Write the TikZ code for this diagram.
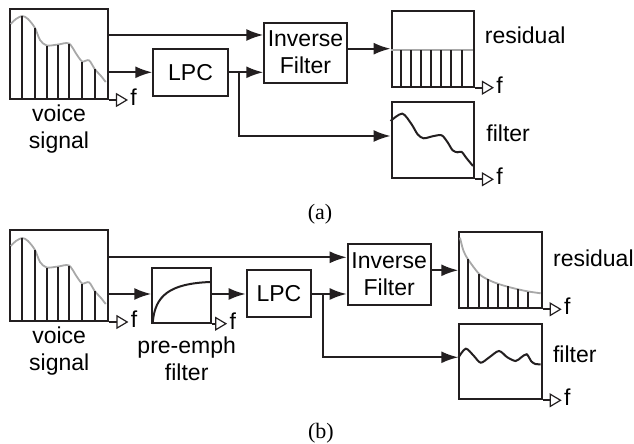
\documentclass[tikz,border=0pt]{standalone}
\usepackage{fontspec}
\setmainfont{Liberation Serif}
\setsansfont{Liberation Sans}
\usetikzlibrary{arrows.meta,positioning,calc}
\definecolor{envgray}{HTML}{A8A8A8}
\definecolor{inkblack}{HTML}{231F20}

\begin{document}
\begin{tikzpicture}[
x=0.5pt,y=0.5pt,
every node/.style={font=\sffamily\fontsize{11.5}{13.5}\selectfont},
spec/.style={draw=inkblack,line width=1pt,inner sep=0pt,
minimum width=41.2pt,minimum height=38pt},
blk/.style={draw=inkblack,line width=1pt,inner sep=0pt,align=center},
lbl/.style={inner sep=0pt,align=center},
fl/.style={inner sep=0pt,anchor=base west,xshift=0.7pt,yshift=-2.8pt},
arr/.style={draw=inkblack,line width=1pt,-{Latex[length=8.5pt,width=6pt]}},
faxis/.style={draw=inkblack,line width=1pt,
-{Triangle[open,length=6pt,width=7pt,line width=0.6pt]}},
stem/.style={inkblack,line width=1pt},
env/.style={envgray,line width=0.9pt},
resp/.style={inkblack,line width=1pt},
caplbl/.style={font=\rmfamily\fontsize{11}{13}\selectfont,inner sep=0pt}
]
\useasboundingbox (0,0) rectangle (634,444);

% (a)
\node[spec,minimum width=49pt,minimum height=45pt] (voiceA) at (59,390) {};
\node[blk,minimum width=37.2pt,minimum height=23.4pt] (lpcA) at (190.5,371.7) {LPC};
\node[blk,minimum width=41.2pt,minimum height=30pt] (invA) at (305.5,391.3) {Inverse\\Filter};
\node[spec] (resA)  at (432.8,395.3) {};
\node[spec] (filtA) at (432.8,303.7) {};
\node[lbl,below=2.2pt of voiceA] (voiceAl) {voice\\signal};
\node[lbl,anchor=base west] (resAl)  at ([shift={(9.5,4.7)}]resA.east) {residual};
\node[lbl,anchor=base west] (filtAl) at ([shift={(11,-1.4)}]filtA.east) {filter};
\node[caplbl] (capA) at (320,230) {(a)};

% (b)
\node[spec,minimum width=49.2pt,minimum height=45.5pt] (voiceB) at (59.2,168.5) {};
\node[spec,minimum width=29.4pt,minimum height=27.2pt] (preB) at (181.7,148.5) {};
\node[blk,minimum width=32.2pt,minimum height=23.4pt] (lpcB) at (278.9,150.7) {LPC};
\node[blk,minimum width=41.5pt,minimum height=30.5pt] (invB) at (389.2,169.5) {Inverse\\Filter};
\node[spec] (resB) at (500.5,173.7) {};
\node[spec,minimum height=37.5pt] (filtB) at (500.5,82.2) {};
\node[lbl,below=2.2pt of voiceB] (voiceBl) {voice\\signal};
\node[lbl,below=6.5pt of preB,xshift=2.5pt] (preBl) {pre-emph\\filter};
\node[lbl,anchor=base west] (resBl)  at ([shift={(10,3.6)}]resB.east) {residual};
\node[lbl,anchor=base west] (filtBl) at ([shift={(10,-0.9)}]filtB.east) {filter};
\node[caplbl] (capB) at (321,11) {(b)};

% spectra
\foreach \v in {voiceA,voiceB}{
  \begin{scope}[shift={(\v.south west)}]
    \draw[env] plot[smooth] coordinates {(1.7,76) (7,81) (13.3,84) (19,81)
      (26,72) (31,60) (37.7,54.5) (49.3,55.5) (60,56.5) (68,45) (73.3,38.5)
      (80,39.7) (85.7,31) (92,24) (96.7,18)};
    \foreach \x/\h in {13.3/84,26/72,37.7/54,49.3/55,60/56,73.3/38,85.7/31}
      \draw[stem] (\x,0) -- (\x,\h);
  \end{scope}
}
\begin{scope}[shift={(resA.south west)}]
  \draw[env] (0,37.7) -- (82.4,37.7);
  \foreach \x in {10,20.6,30.6,40.6,50.6,60.6,71}
    \draw[stem] (\x,0) -- (\x,37.7);
\end{scope}
\begin{scope}[shift={(filtA.south west)}]
  \draw[resp] plot[smooth] coordinates {(0,58.3) (11.7,65.7) (21,55) (27,45)
    (33,41) (42,43) (51,44) (57,37) (62,29) (67,27) (71,27.5) (76,21) (82.4,13.3)};
\end{scope}
\begin{scope}[shift={(preB.south west)}]
  \draw[resp] (1.5,2) .. controls (4,28) and (18,40) .. (58.8,41.7);
\end{scope}
\begin{scope}[shift={(resB.south west)}]
  \draw[env] plot[smooth] coordinates {(1.7,71.6) (5,59) (9.7,50) (20.7,35.5)
    (30,29.5) (39.7,25.5) (49.7,22.5) (59.7,20) (70,17.8) (82.4,16)};
  \foreach \x/\h in {9.7/50,20.7/35,30/30,39.7/25.6,49.7/23,59.7/20,70/17.6}
    \draw[stem] (\x,0) -- (\x,\h);
\end{scope}
\begin{scope}[shift={(filtB.south west)}]
  \draw[resp] plot[smooth] coordinates {(0,42.6) (7.4,51.6) (15,45) (22.4,37.6)
    (31,43) (40.7,49.3) (49,43) (57.4,39.3) (63,43) (68.4,46) (73,39)
    (77,36.3) (82.4,36)};
\end{scope}

% frequency axes
\foreach \s in {voiceA,resA,filtA,voiceB,resB,filtB}
  \draw[faxis] (\s.south east) -- ++(19,0) node[fl] (f\s) {f};
\draw[faxis] (preB.south east) -- ++(15,0) node[fl] (fpreB) {f};

% connections (a)
\coordinate (topA) at (0,409);
\coordinate (brA) at ($(lpcA.east)+(10,0)$);
\draw[arr] (voiceA.east |- topA) -- (invA.west |- topA);
\draw[arr] (voiceA.east |- lpcA) -- (lpcA.west);
\draw[arr] (lpcA.east) -- (invA.west |- lpcA.east);
\draw[arr] (brA) |- ([yshift=2.15pt]filtA.west);
\draw[arr] (invA.east |- resA) -- (resA.west);

% connections (b)
\coordinate (topB) at (0,186.7);
\coordinate (lowB) at (0,150);
\coordinate (brB) at ($(lpcB.east |- lowB)+(10.7,0)$);
\draw[arr] (voiceB.east |- topB) -- (invB.west |- topB);
\draw[arr] (voiceB.east |- lowB) -- (preB.west |- lowB);
\draw[arr] (preB.east |- lowB) -- (lpcB.west |- lowB);
\draw[arr] (lpcB.east |- lowB) -- (invB.west |- lowB);
\draw[arr] (brB) |- ([yshift=2.25pt]filtB.west);
\draw[arr] (invB.east |- resB) -- (resB.west);
\end{tikzpicture}
\end{document}
